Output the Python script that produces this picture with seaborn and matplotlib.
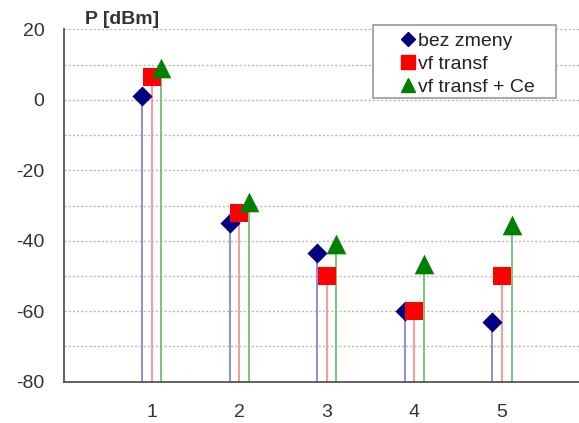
import pandas as pd
import numpy as np
import matplotlib
matplotlib.use("Agg")
import matplotlib.pyplot as plt
import seaborn as sb
from matplotlib.lines import Line2D
from matplotlib.patches import Rectangle
from matplotlib.transforms import IdentityTransform

# data
harmonic = [1, 2, 3, 4, 5]
bez_zmeny = [1, -35, -43.5, -60, -63]
vf_transf = [6.5, -32, -50, -60, -50]
vf_transf_ce = [9, -29, -41, -46.5, -35.5]
series_names = ["bez zmeny", "vf transf", "vf transf + Ce"]
offsets = [-0.11, 0.0, 0.11]

marker_colors = ["#000080", "#ff0000", "#008000"]
stem_colors = ["#8585d8", "#ff9090", "#70c070"]
markers = ["D", "s", "^"]
sizes = [105, 175, 200]

sb.set_style("white")
plt.rcParams["font.family"] = ["Liberation Sans", "DejaVu Sans"]
plt.rcParams["axes.unicode_minus"] = False

frames = []
for name, vals, off in zip(series_names, [bez_zmeny, vf_transf, vf_transf_ce], offsets):
    frames.append(pd.DataFrame({"x": np.array(harmonic) + off, "P": vals, "series": name}))
df = pd.concat(frames, ignore_index=True)

W, H = 579, 423
fig = plt.figure(figsize=(W / 100, H / 100), dpi=100)
ax = fig.add_axes([64 / W, 41.3 / H, 1 - 64 / W, 352.4 / H])

# dotted gridlines every 10 dB
for yv in range(-70, 21, 10):
    ax.axhline(yv, color="#b8b8b8", lw=1, ls=(0, (1.5, 1.5)), zorder=0)

# stems from the bottom of the axis
for i, name in enumerate(series_names):
    sub = df[df["series"] == name]
    ax.vlines(sub["x"], -80, sub["P"], color=stem_colors[i], lw=1.3, zorder=1)

for i, name in enumerate(series_names):
    sb.scatterplot(data=df[df["series"] == name], x="x", y="P", marker=markers[i],
                   color=marker_colors[i], s=sizes[i], linewidth=0, ax=ax, zorder=3)

ax.set_xlim(0, 5.88)
ax.set_ylim(-80, 20)
ax.set_xticks(harmonic)
ax.set_yticks(range(-80, 21, 20))
ax.set_xlabel("")
ax.set_ylabel("")
ax.tick_params(axis="both", labelsize=14, colors="#333333", length=5, width=1,
               direction="out")
ax.tick_params(axis="x", pad=11)
ax.tick_params(axis="y", pad=9)
for s in ["top", "right"]:
    ax.spines[s].set_visible(False)
for s in ["left", "bottom"]:
    ax.spines[s].set_color("#555555")
    ax.spines[s].set_linewidth(1.3)

ax.text(85, H - 19, "P [dBm]", transform=IdentityTransform(), fontsize=14,
        fontweight="bold", color="#333333", va="center")

# legend frame drawn separately so the padding can match the reference
ax.add_patch(Rectangle((373 / W, 1 - 98 / H), 183 / W, 73 / H,
                       transform=fig.transFigure, facecolor="white",
                       edgecolor="#999999", lw=1.2, zorder=5, clip_on=False))
handles = [Line2D([], [], marker=markers[i], color=marker_colors[i], ls="",
                  markersize=[7.5, 10, 10][i]) for i in range(3)]
leg = ax.legend(handles, series_names, loc="upper left",
                bbox_to_anchor=(398 / W, 1 - 32 / H), bbox_transform=fig.transFigure,
                fontsize=14, frameon=False, handlelength=1.0,
                handletextpad=0.05, labelspacing=0.28, borderpad=0, borderaxespad=0)
leg.set_zorder(6)
for t in leg.get_texts():
    t.set_color("#222222")

plt.savefig("out.png", dpi=100)
